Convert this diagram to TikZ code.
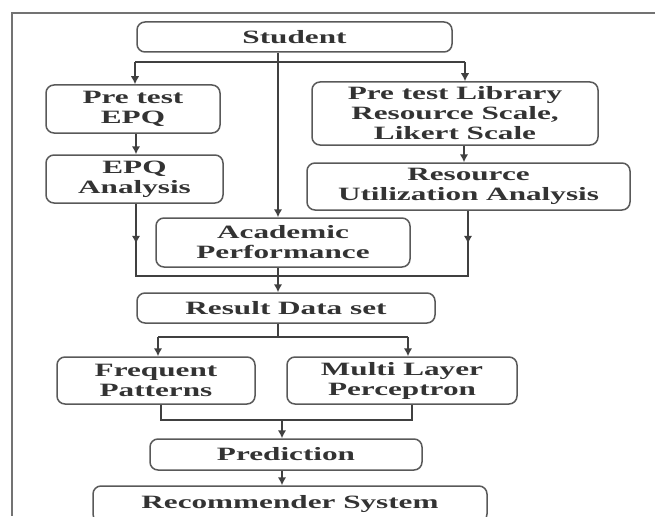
\documentclass[tikz,border=0pt]{standalone}
\usepackage{fontspec}
\newfontfamily\chartfont[FakeStretch=1.66]{Liberation Serif}
\usetikzlibrary{arrows.meta}
\tikzset{
  box/.style={draw=black!65, line width=1.5pt, rounded corners=8pt, align=center,
    inner sep=0pt, font=\chartfont\bfseries\fontsize{18.8}{20}\selectfont, text=black!80},
  flow/.style={draw=black!75, line width=1.5pt},
  arr/.style={flow, -{Latex[length=8pt,width=8.5pt]}}
}
\begin{document}
\begin{tikzpicture}[x=1pt,y=-1pt]
\useasboundingbox (0,0) rectangle (655,516);
\draw[black!55, line width=2pt] (655,13)--(12,13)--(12,516);
% boxes
\node[box, minimum width=315pt, minimum height=30pt] (student) at (294.5,37) {Student};
\node[box, minimum width=174pt, minimum height=48pt] (preEPQ) at (133,109) {Pre test\\EPQ};
\node[box, minimum width=177pt, minimum height=48pt] (epqAna) at (134.5,179) {EPQ\\Analysis};
\node[box, minimum width=286pt, minimum height=63pt] (preLib) at (455,113.5) {Pre test Library\\Resource Scale,\\Likert Scale};
\node[box, minimum width=323pt, minimum height=47pt] (resAna) at (468.5,186.5) {Resource\\Utilization Analysis};
\node[box, minimum width=254pt, minimum height=49pt] (acad) at (283,242.5) {Academic\\Performance};
\node[box, minimum width=298pt, minimum height=30pt] (result) at (286,308) {Result Data set};
\node[box, minimum width=198pt, minimum height=47pt] (freq) at (156,380.5) {Frequent\\Patterns};
\node[box, minimum width=230pt, minimum height=47pt] (mlp) at (402,380.5) {Multi Layer\\Perceptron};
\node[box, minimum width=272pt, minimum height=31pt] (pred) at (286,454.5) {Prediction};
\node[box, minimum width=394pt, minimum height=36pt] (recom) at (290,504) {Recommender System};
% junction points
\coordinate (cx) at (278,0);
\coordinate (px) at (282,0);
\coordinate (sl) at (135,62);
\coordinate (sr) at (465,62);
\coordinate (jl) at (136,276);
\coordinate (jr) at (468,276);
\coordinate (rl) at (158,337);
\coordinate (rr) at (408,337);
\coordinate (fl) at (161,420);
\coordinate (fr) at (412,420);
% connectors
\draw[arr] (student.south -| cx) -- (acad.north -| cx);
\draw[flow] (sl) -- (sr);
\draw[arr] (sl) -- (sl |- preEPQ.north);
\draw[arr] (sr) -- (sr |- preLib.north);
\draw[arr] (preEPQ.south -| jl) -- (epqAna.north -| jl);
\draw[arr] (preLib.south -| 464,0) -- (resAna.north -| 464,0);
\draw[flow] (epqAna.south -| jl) -- (jl) -- (jr) -- (resAna.south -| jr);
\draw[arr] (epqAna.south -| jl) -- ++(0,40);
\draw[arr] (resAna.south -| jr) -- ++(0,33);
\draw[arr] (acad.south -| cx) -- (result.north -| cx);
\draw[flow] (result.south -| cx) -- (cx |- rl);
\draw[flow] (rl) -- (rr);
\draw[arr] (rl) -- (rl |- freq.north);
\draw[arr] (rr) -- (rr |- mlp.north);
\draw[flow] (freq.south -| fl) -- (fl) -- (fr) -- (mlp.south -| fr);
\draw[arr] (px |- fl) -- (pred.north -| px);
\draw[arr] (pred.south -| px) -- (recom.north -| px);
\end{tikzpicture}
\end{document}
